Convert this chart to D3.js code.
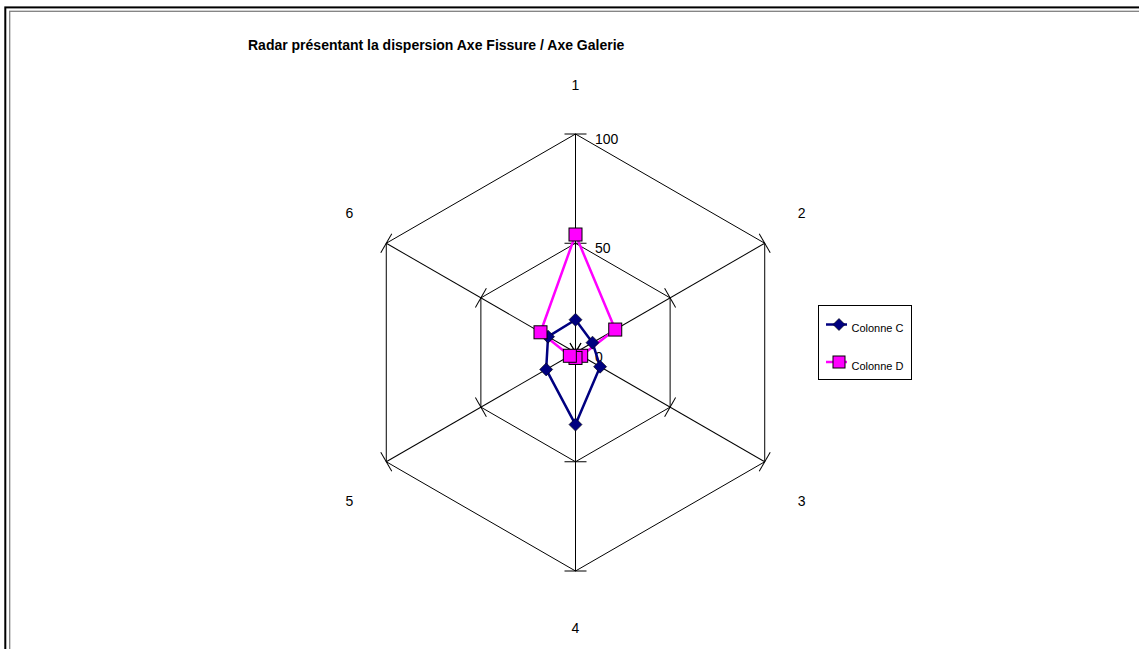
<!DOCTYPE html>
<html>
<head>
<meta charset="utf-8">
<script src="https://cdn.jsdelivr.net/npm/d3@7"></script>
<style>
  html, body { margin: 0; padding: 0; background: #fff; }
  svg { display: block; font-family: "Liberation Sans", Arial, sans-serif; }
</style>
</head>
<body>
<svg id="chart" width="1139" height="649"></svg>
<script>
// Axes of the radar (one per measurement)
const categories = ["1", "2", "3", "4", "5", "6"];
// Series values
const colonneC = [15, 9, 13, 33, 15.5, 14.5];
const colonneD = [54, 21, 3, 2.5, 3, 18.5];
const seriesNames = ["Colonne C", "Colonne D"];
// Radial tick values
const tickValues = [0, 50, 100];
const titleText = "Radar présentant la dispersion Axe Fissure / Axe Galerie";

const svg = d3.select("#chart");
const W = 1139, H = 649;

// Double frame around the sheet
svg.append("rect").attr("x", 5.3).attr("y", 7.4).attr("width", W + 20).attr("height", H + 20)
  .attr("fill", "none").attr("stroke", "#000").attr("stroke-width", 2);
svg.append("rect").attr("x", 9.7).attr("y", 11.3).attr("width", W + 20).attr("height", H + 20)
  .attr("fill", "none").attr("stroke", "#808080").attr("stroke-width", 1.3);

// Title
svg.append("text").attr("x", 248).attr("y", 50)
  .attr("font-size", 14).attr("font-weight", "bold").attr("fill", "#000")
  .text(titleText);

const cx = 575.5, cy = 352.5, R = 218.5;
const r = d3.scaleLinear().domain([0, 100]).range([0, R]);
const angle = d3.scaleLinear().domain([0, categories.length]).range([0, 2 * Math.PI]);

const g = svg.append("g").attr("transform", `translate(${cx},${cy})`);

// Hexagonal gridlines
const gridLine = d3.lineRadial()
  .angle((d, i) => angle(i))
  .radius(d => r(d))
  .curve(d3.curveLinearClosed);
tickValues.filter(t => t > 0).forEach(t => {
  g.append("path").attr("d", gridLine(categories.map(() => t)))
    .attr("fill", "none").attr("stroke", "#000").attr("stroke-width", 1);
});

// Spokes with cross ticks at each gridline
categories.forEach((c, i) => {
  const deg = angle(i) * 180 / Math.PI;
  const ax = g.append("g").attr("transform", `rotate(${deg})`);
  ax.append("line").attr("x1", 0).attr("y1", 0).attr("x2", 0).attr("y2", -r(100))
    .attr("stroke", "#000").attr("stroke-width", 1);
  tickValues.forEach(t => {
    ax.append("line").attr("x1", -11).attr("x2", 11)
      .attr("y1", -r(t)).attr("y2", -r(t))
      .attr("stroke", "#000").attr("stroke-width", 1);
  });
});

// Value labels on the first axis
tickValues.forEach(t => {
  g.append("text").attr("x", 19.5).attr("y", -r(t) + 9.5)
    .attr("font-size", 14).attr("fill", "#000").text(t);
});

// Category labels around the outside
categories.forEach((c, i) => {
  const a = angle(i);
  const ca = Math.cos(a);
  const lx = 261.2 * Math.sin(a);
  const ly = 4.1 - ca * (Math.abs(ca) > 0.9 ? 271.6 : 287.8);
  g.append("text").attr("x", lx).attr("y", ly + 5)
    .attr("text-anchor", "middle").attr("font-size", 14).attr("fill", "#000").text(c);
});

// Series lines and markers
const seriesLine = d3.lineRadial()
  .angle((d, i) => angle(i))
  .radius(d => r(d))
  .curve(d3.curveLinearClosed);

const navy = "#000080", magenta = "#FF00FF";

g.append("path").attr("d", seriesLine(colonneC))
  .attr("fill", "none").attr("stroke", navy).attr("stroke-width", 2.5).attr("stroke-linejoin", "round");
g.append("path").attr("d", seriesLine(colonneD))
  .attr("fill", "none").attr("stroke", magenta).attr("stroke-width", 2.5).attr("stroke-linejoin", "round");

const diamond = "M0,-6.5L6.5,0L0,6.5L-6.5,0Z";
g.selectAll(".mc").data(colonneC).enter().append("path")
  .attr("class", "mc")
  .attr("transform", (d, i) => { const p = d3.pointRadial(angle(i), r(d)); return `translate(${p[0]},${p[1]})`; })
  .attr("d", diamond).attr("fill", navy).attr("stroke", "#000").attr("stroke-width", 0.6);

g.selectAll(".md").data(colonneD).enter().append("rect")
  .attr("class", "md")
  .attr("x", (d, i) => d3.pointRadial(angle(i), r(d))[0] - 6.5)
  .attr("y", (d, i) => d3.pointRadial(angle(i), r(d))[1] - 6.5)
  .attr("width", 13).attr("height", 13)
  .attr("fill", magenta).attr("stroke", "#000").attr("stroke-width", 1);

// Legend
const lg = svg.append("g").attr("transform", "translate(818.5,305.5)");
lg.append("rect").attr("width", 93).attr("height", 74)
  .attr("fill", "#fff").attr("stroke", "#000").attr("stroke-width", 1);
const colors = [navy, magenta];
seriesNames.forEach((name, i) => {
  const y = 19 + i * 37.5;
  lg.append("line").attr("x1", 7.5).attr("x2", 28.5).attr("y1", y).attr("y2", y)
    .attr("stroke", colors[i]).attr("stroke-width", 2.5);
  if (i === 0) {
    lg.append("path").attr("transform", `translate(20.5,${y})`).attr("d", "M0,-6L6,0L0,6L-6,0Z")
      .attr("fill", navy).attr("stroke", "#000").attr("stroke-width", 0.6);
  } else {
    lg.append("rect").attr("x", 14.5).attr("y", y - 6).attr("width", 12).attr("height", 12)
      .attr("fill", magenta).attr("stroke", "#000").attr("stroke-width", 1);
  }
  lg.append("text").attr("x", 33).attr("y", y + 7.5)
    .attr("font-size", 11).attr("fill", "#000").text(name);
});
</script>
</body>
</html>
